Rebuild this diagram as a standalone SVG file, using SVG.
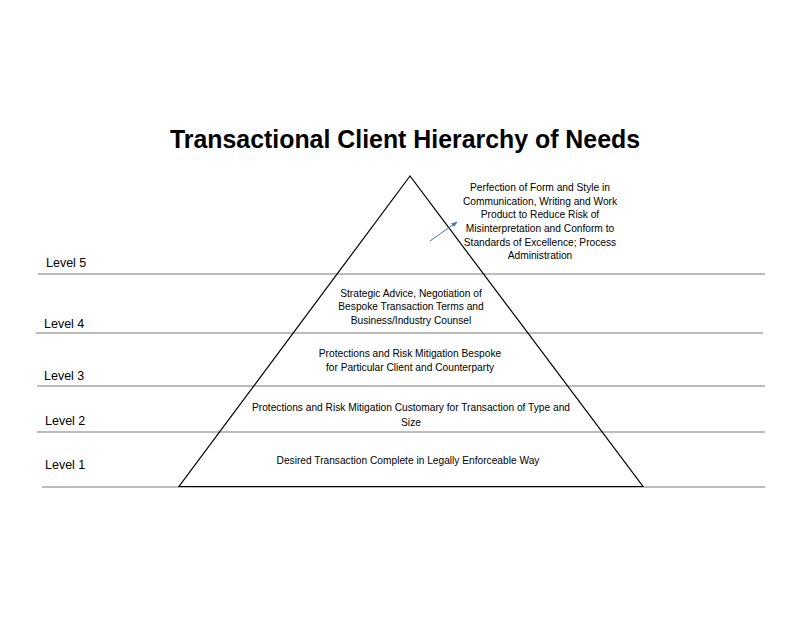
<svg xmlns="http://www.w3.org/2000/svg" width="800" height="618" viewBox="0 0 800 618">
<style>
.t{font-family:"Liberation Sans",Arial,sans-serif;fill:#000}
.title{font-size:26px;font-weight:bold;text-anchor:middle}
.lvl{font-size:12.5px}
.d{font-size:10.2px;text-anchor:middle}
.sep{stroke:#a6a6a6;stroke-width:1.5;fill:none}
.tri{stroke:#000;stroke-width:1.2;fill:none}
</style>
<defs>
<marker id="ah" viewBox="0 0 10 10" refX="9" refY="5" markerWidth="6" markerHeight="6" orient="auto">
<path d="M0,1 L10,5 L0,9 z" fill="#4472c4"/>
</marker>
</defs>
<rect width="800" height="618" fill="#fff"/>
<text class="t title" x="405" y="148" textLength="470" lengthAdjust="spacingAndGlyphs">Transactional Client Hierarchy of Needs</text>
<g id="separators">
<line class="sep" x1="38" y1="274" x2="765" y2="274"/>
<line class="sep" x1="36" y1="333" x2="763" y2="333"/>
<line class="sep" x1="37" y1="386" x2="765" y2="386"/>
<line class="sep" x1="37" y1="432" x2="765" y2="432"/>
<line class="sep" x1="42" y1="487" x2="765" y2="487"/>
</g>
<g id="pyramid">
<path class="tri" d="M410,176 L179,486.5 L643,486.5 Z"/>
</g>
<g id="level5">
<text class="t lvl" x="46" y="267">Level 5</text>
<text class="t d" x="540" y="191">Perfection of Form and Style in</text>
<text class="t d" x="540" y="205">Communication, Writing and Work</text>
<text class="t d" x="540" y="218">Product to Reduce Risk of</text>
<text class="t d" x="540" y="232">Misinterpretation and Conform to</text>
<text class="t d" x="540" y="246">Standards of Excellence; Process</text>
<text class="t d" x="540" y="259">Administration</text>
</g>
<g id="level4">
<text class="t lvl" x="44" y="328">Level 4</text>
<text class="t d" x="411" y="297">Strategic Advice, Negotiation of</text>
<text class="t d" x="411" y="310">Bespoke Transaction Terms and</text>
<text class="t d" x="411" y="324">Business/Industry Counsel</text>
</g>
<g id="level3">
<text class="t lvl" x="44" y="380">Level 3</text>
<text class="t d" x="410" y="357">Protections and Risk Mitigation Bespoke</text>
<text class="t d" x="410" y="371">for Particular Client and Counterparty</text>
</g>
<g id="level2">
<text class="t lvl" x="45" y="425">Level 2</text>
<text class="t d" x="411" y="411">Protections and Risk Mitigation Customary for Transaction of Type and</text>
<text class="t d" x="411" y="426">Size</text>
</g>
<g id="level1">
<text class="t lvl" x="45" y="469">Level 1</text>
<text class="t d" x="408" y="464">Desired Transaction Complete in Legally Enforceable Way</text>
</g>
<g id="connectors">
<line x1="430" y1="241" x2="457" y2="222" stroke="#4472c4" stroke-width="1" marker-end="url(#ah)"/>
</g>
</svg>
